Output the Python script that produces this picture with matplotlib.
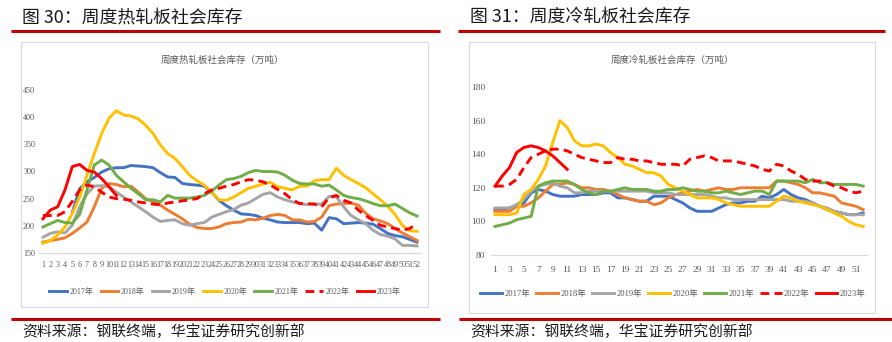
import numpy as np
import matplotlib
matplotlib.use("Agg")
import matplotlib.pyplot as plt
from matplotlib.lines import Line2D
from matplotlib.patches import Rectangle
from matplotlib.font_manager import FontProperties

nan = np.nan
weeks = list(range(1, 53))
years = ["2017年", "2018年", "2019年", "2020年", "2021年", "2022年", "2023年"]

# hot-rolled social inventory (10k t)
hr_2017 = [nan, nan, nan, nan, 225, 268, 281, 289, 299, 305,
           307, 307, 311, 310, 309, 307, 298, 290, 289, 278,
           276, 275, 273, 262, 247, 237, 229, 222, 221, 219,
           214, 211, 207, 206, 206, 206, 204, 205, 192, 215,
           213, 204, 205, 206, 205, 203, 195, 186, 182, 180,
           175, 170]
hr_2018 = [170, 173, 175, 178, 186, 196, 207, 235, 269, 278,
           276, 272, 273, 262, 250, 244, 238, 229, 221, 213,
           203, 197, 195, 195, 198, 204, 206, 207, 212, 211,
           214, 219, 221, 219, 211, 211, 207, 208, 216, 237,
           240, 241, 242, 238, 223, 213, 209, 204, 195, 187,
           180, 173]
hr_2019 = [179, 186, 189, 187, 201, 235, 259, 273, 274, 272,
           262, 253, 244, 235, 226, 216, 208, 210, 211, 204,
           201, 204, 206, 216, 221, 226, 230, 238, 242, 250,
           258, 261, 253, 248, 244, 241, 239, 240, 240, 254,
           253, 235, 219, 211, 204, 192, 184, 181, 176, 164,
           164, 163]
hr_2020 = [168, 173, 183, 198, 223, 253, 293, 333, 370, 398,
           412, 404, 402, 397, 385, 370, 349, 333, 324, 309,
           293, 283, 275, 262, 248, 247, 253, 261, 269, 273,
           277, 280, 272, 269, 266, 273, 273, 283, 285, 285,
           306, 293, 285, 278, 270, 259, 248, 236, 221, 201,
           191, 190]
hr_2021 = [198, 204, 210, 206, 205, 221, 266, 312, 321, 312,
           293, 281, 269, 259, 248, 248, 244, 256, 251, 251,
           251, 253, 256, 264, 275, 285, 287, 291, 298, 302,
           300, 300, 299, 293, 284, 278, 277, 277, 273, 275,
           266, 256, 252, 250, 246, 241, 237, 237, 240, 232,
           224, 218]
hr_2022 = [219, 219, 219, 226, 245, 266, 275, 272, 262, 253,
           250, 249, 247, 244, 242, 240, 239, 242, 244, 246,
           248, 250, 259, 266, 269, 273, 276, 281, 285, 284,
           281, 275, 267, 259, 248, 241, 241, 240, 235, 252,
           256, 247, 242, 229, 219, 210, 201, 198, 195, 192,
           195, 204]
hr_2023 = [213, 229, 235, 266, 309, 313, 302, 299, 287, 272, 256]

# cold-rolled social inventory (10k t)
cr_2017 = [107, 107, 108, 109, 111, 117, 119, 118, 116, 115,
           115, 115, 116, 116, 116, 117, 117, 114, 114, 113,
           112, 112, 115, 115, 115, 113, 111, 108, 106, 106,
           106, 108, 110, 111, 111, 112, 112, 115, 114, 116,
           119, 116, 114, 113, 111, 109, 107, 106, 105, 104,
           104, 105]
cr_2018 = [106, 106, 106, 109, 109, 111, 114, 118, 122, 122,
           123, 122, 120, 120, 119, 119, 118, 116, 114, 113,
           112, 112, 110, 111, 114, 116, 117, 118, 119, 118,
           119, 120, 119, 119, 120, 120, 120, 120, 120, 124,
           124, 123, 122, 120, 117, 117, 116, 115, 111, 110,
           109, 107]
cr_2019 = [108, 108, 108, 110, 113, 118, 121, 122, 123, 121,
           120, 117, 117, 118, 118, 118, 118, 118, 118, 118,
           118, 118, 117, 117, 117, 116, 116, 116, 116, 116,
           115, 114, 114, 113, 113, 113, 113, 113, 113, 113,
           113, 112, 112, 112, 111, 109, 108, 106, 105, 104,
           104, 104]
cr_2020 = [104, 104, 104, 105, 116, 119, 125, 133, 147, 160,
           156, 148, 145, 145, 146, 145, 141, 138, 134, 133,
           131, 129, 129, 127, 122, 120, 118, 116, 114, 114,
           114, 113, 111, 110, 109, 109, 109, 109, 109, 112,
           115, 114, 112, 111, 110, 109, 107, 105, 103, 100,
           98, 97]
cr_2021 = [97, 98, 99, 101, 102, 103, 121, 123, 124, 124,
           124, 122, 119, 117, 116, 118, 118, 119, 120, 119,
           119, 119, 118, 118, 119, 119, 120, 119, 118, 118,
           117, 117, 118, 117, 116, 117, 118, 118, 116, 124,
           124, 124, 124, 123, 125, 123, 123, 122, 122, 122,
           122, 121]
cr_2022 = [121, 121, 122, 125, 132, 138, 140, 142, 143, 143,
           142, 140, 138, 137, 136, 135, 135, 138, 137, 137,
           136, 136, 135, 134, 134, 134, 133, 137, 138, 139,
           138, 136, 136, 136, 135, 134, 133, 131, 130, 134,
           133, 130, 128, 125, 124, 124, 123, 121, 120, 118,
           117, 118]
cr_2023 = [121, 127, 132, 141, 144, 145, 144, 142, 139, 135, 131]

colors = ["#4472C4", "#ED7D31", "#A5A5A5", "#FFC000", "#70AD47", "#FF0000", "#FF0000"]

W, H = 892, 342
fig = plt.figure(figsize=(W / 100, H / 100), dpi=100)
CJK = "Noto Sans CJK SC"
MIX = ["Liberation Serif", "Noto Sans CJK SC"]


def fx(x):
    return x / W


def fy(y):
    return 1 - y / H


def hline(x0, x1, y, color, lw):
    fig.add_artist(Line2D([fx(x0), fx(x1)], [fy(y), fy(y)], transform=fig.transFigure,
                          color=color, lw=lw, solid_capstyle="butt"))


def box(x0, y0, x1, y1):
    fig.add_artist(Rectangle((fx(x0), fy(y1)), fx(x1 - x0), (y1 - y0) / H,
                             transform=fig.transFigure, fill=False,
                             edgecolor="#D9D9D9", lw=0.8))


def panel(rect, data, ylim, yticks, xticks, tick_size, pad_x, pad_y,
          title, title_xy, leg_xy, leg_size, handlelen, colspace):
    x0, y0, x1, y1 = rect
    ax = fig.add_axes([fx(x0), fy(y1), fx(x1 - x0), (y1 - y0) / H])
    for i, (vals, c) in enumerate(zip(data, colors)):
        n = len(vals)
        ls = (0, (3, 1.8)) if i == 5 else "-"
        ax.plot(weeks[:n], vals, color=c, lw=2.1, ls=ls, label=years[i])
    ax.set_xlim(0.5, 52.5)
    ax.set_ylim(*ylim)
    ax.set_yticks(yticks)
    ax.set_xticks(xticks)
    ax.set_xticklabels([str(t) for t in xticks])
    for s in ["top", "right", "left"]:
        ax.spines[s].set_visible(False)
    ax.spines["bottom"].set_color("#D9D9D9")
    ax.spines["bottom"].set_linewidth(0.9)
    ax.tick_params(length=0, labelcolor="#595959")
    ax.tick_params(axis="x", pad=pad_x)
    ax.tick_params(axis="y", pad=pad_y)
    for lab in ax.get_xticklabels() + ax.get_yticklabels():
        lab.set_fontfamily("Liberation Serif")
        lab.set_fontsize(tick_size)
    ax.patch.set_alpha(0)
    fig.text(fx(title_xy[0]), fy(title_xy[1]), title, family=CJK, fontsize=6.8,
             color="#595959", ha="center", va="center")
    ax.legend(loc="center", bbox_to_anchor=(fx(leg_xy[0]), fy(leg_xy[1])),
              bbox_transform=fig.transFigure, ncol=7, frameon=False,
              prop=FontProperties(family=MIX, size=leg_size),
              handlelength=handlelen, handletextpad=0.3, columnspacing=colspace,
              labelcolor="#595959")
    return ax


# left panel: hot-rolled
fig.text(fx(22), fy(17), "图 30：周度热轧板社会库存", family=CJK, fontsize=12.9,
         color="#1a1a1a", ha="left", va="center")
hline(11, 440, 30.5, "#C00000", 2.2)
box(21, 42, 428, 307)
panel((39.3, 90, 420.7, 253), [hr_2017, hr_2018, hr_2019, hr_2020, hr_2021, hr_2022, hr_2023],
      (150, 450), list(range(150, 451, 50)), weeks, 5.9, 6, 3,
      "周度热轧板社会库存（万吨）", (222, 60), (225, 292), 5.8, 2.2, 0.9)
hline(11, 440, 319, "#C00000", 2.2)
fig.text(fx(22), fy(332), "资料来源：钢联终端，华宝证券研究创新部", family=CJK, fontsize=10.7,
         color="#1a1a1a", ha="left", va="center")

# right panel: cold-rolled
fig.text(fx(470), fy(17), "图 31：周度冷轧板社会库存", family=CJK, fontsize=12.9,
         color="#1a1a1a", ha="left", va="center")
hline(458, 885, 30.5, "#C00000", 2.2)
box(469, 42, 875, 313)
panel((491.4, 87, 866.8, 255), [cr_2017, cr_2018, cr_2019, cr_2020, cr_2021, cr_2022, cr_2023],
      (80, 180), list(range(80, 181, 20)), list(range(1, 53, 2)), 6.8, 8, 4.5,
      "周度冷轧板社会库存（万吨）", (672, 60), (673, 294), 6.2, 2.5, 0.7)
hline(459, 892, 319, "#C00000", 2.2)
fig.text(fx(470), fy(332), "资料来源：钢联终端，华宝证券研究创新部", family=CJK, fontsize=10.7,
         color="#1a1a1a", ha="left", va="center")

fig.savefig("out.png", dpi=100)
